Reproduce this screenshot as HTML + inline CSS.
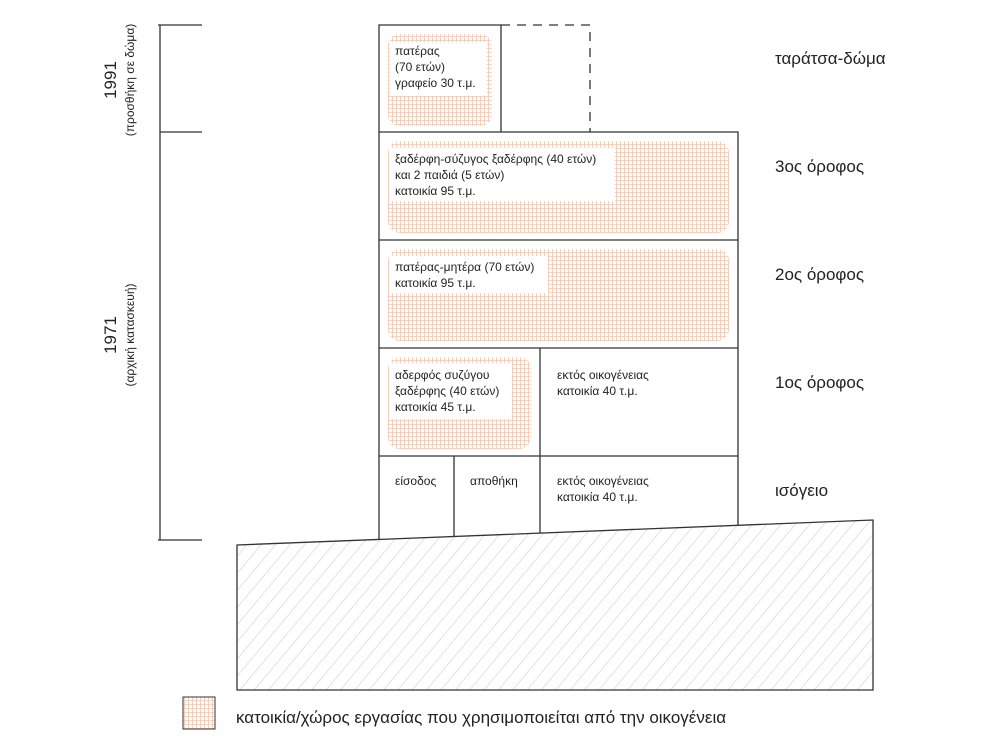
<!DOCTYPE html>
<html><head><meta charset="utf-8"><style>
html,body{margin:0;padding:0;background:#fff}
svg{display:block}
text{font-family:"Liberation Sans","DejaVu Sans",sans-serif;fill:#222}
.s{font-size:12px}
.l{font-size:17px}
</style></head><body>
<svg width="1000" height="744" viewBox="0 0 1000 744" xmlns="http://www.w3.org/2000/svg">
<defs>
<pattern id="g" width="4" height="4" patternUnits="userSpaceOnUse">
<rect width="4" height="4" fill="#fff"/>
<path d="M0 0.5H4M0.5 0V4" stroke="#f9c3ad" stroke-width="0.8"/>
</pattern>
<pattern id="h" width="11" height="11" patternUnits="userSpaceOnUse" patternTransform="rotate(40)">
<path d="M0 0V11" stroke="#c8c8c8" stroke-width="1"/>
</pattern>
</defs>
<polygon points="237,545 873,520 873,690 237,690" fill="url(#h)" stroke="#333" stroke-width="1.3"/>
<rect x="388" y="34" width="104" height="92" rx="12" fill="url(#g)"/>
<rect x="388" y="141" width="341" height="92" rx="12" fill="url(#g)"/>
<rect x="388" y="249" width="341" height="92" rx="12" fill="url(#g)"/>
<rect x="388" y="357" width="143" height="92" rx="12" fill="url(#g)"/>
<rect x="390" y="42" width="97" height="54" fill="#fff"/>
<rect x="389" y="148" width="226" height="53" fill="#fff"/>
<rect x="389" y="256" width="159" height="37" fill="#fff"/>
<rect x="389" y="363" width="123" height="56" fill="#fff"/>
<g stroke="#333" stroke-width="1.3" fill="none">
<path d="M379 539.4V25H501V132"/>
<path d="M501 25H590V132" stroke-dasharray="9,7"/>
<path d="M379 132H738V525.3"/>
<path d="M379 240H738M379 348H738M379 456H738"/>
<path d="M540 348V533M454 456V536.5"/>
<path d="M160 25V540M158 25H202M160 132H202M158 540H202"/>
</g>
<text class="s" x="395" y="55">πατέρας</text>
<text class="s" x="395" y="71">(70 ετών)</text>
<text class="s" x="395" y="87">γραφείο 30 τ.μ.</text>
<text class="s" x="395" y="163">ξαδέρφη-σύζυγος ξαδέρφης (40 ετών)</text>
<text class="s" x="395" y="179">και 2 παιδιά (5 ετών)</text>
<text class="s" x="395" y="195">κατοικία 95 τ.μ.</text>
<text class="s" x="395" y="271">πατέρας-μητέρα (70 ετών)</text>
<text class="s" x="395" y="287">κατοικία 95 τ.μ.</text>
<text class="s" x="395" y="379">αδερφός συζύγου</text>
<text class="s" x="395" y="395">ξαδέρφης (40 ετών)</text>
<text class="s" x="395" y="411">κατοικία 45 τ.μ.</text>
<text class="s" x="557" y="379">εκτός οικογένειας</text>
<text class="s" x="557" y="395">κατοικία 40 τ.μ.</text>
<text class="s" x="395" y="485">είσοδος</text>
<text class="s" x="470" y="485">αποθήκη</text>
<text class="s" x="557" y="485">εκτός οικογένειας</text>
<text class="s" x="557" y="501">κατοικία 40 τ.μ.</text>
<text class="l" x="775" y="64">ταράτσα-δώμα</text>
<text class="l" x="775" y="172">3ος όροφος</text>
<text class="l" x="775" y="280">2ος όροφος</text>
<text class="l" x="775" y="388">1ος όροφος</text>
<text class="l" x="775" y="496">ισόγειο</text>
<text class="l" transform="translate(116,80) rotate(-90)" text-anchor="middle">1991</text>
<text class="s" transform="translate(134,80) rotate(-90)" text-anchor="middle">(προσθήκη σε δώμα)</text>
<text class="l" transform="translate(116,335) rotate(-90)" text-anchor="middle">1971</text>
<text class="s" transform="translate(134,335) rotate(-90)" text-anchor="middle">(αρχική κατασκευή)</text>
<rect x="183" y="697" width="32" height="32" fill="url(#g)" stroke="#333" stroke-width="1"/>
<text class="l" x="236" y="723">κατοικία/χώρος εργασίας που χρησιμοποιείται από την οικογένεια</text>
</svg>
</body></html>
